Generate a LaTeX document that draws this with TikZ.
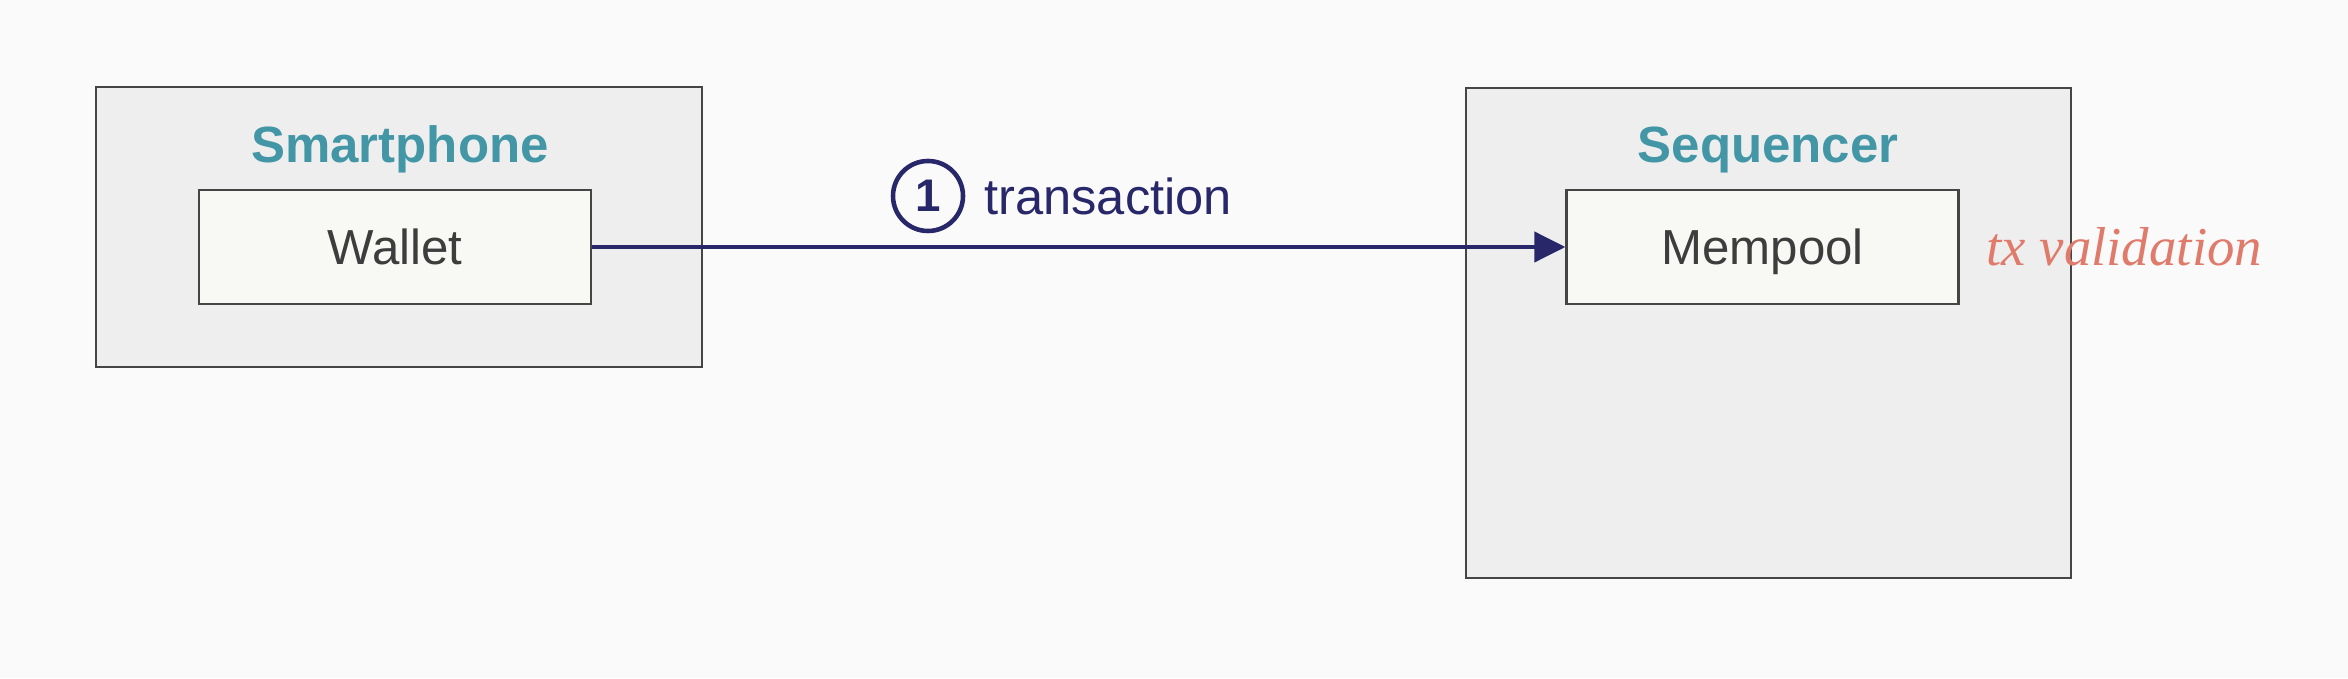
\documentclass[tikz,border=0pt]{standalone}
\usepackage{fontspec}
\setmainfont{Liberation Sans}
\newfontfamily\handfont{Liberation Serif}
\usetikzlibrary{arrows.meta}
\definecolor{bgcol}{HTML}{FAFAFA}
\definecolor{groupfill}{HTML}{EEEEEE}
\definecolor{boxfill}{HTML}{F8F9F4}
\definecolor{edgecol}{HTML}{454545}
\definecolor{textcol}{HTML}{3D3D3D}
\definecolor{teal}{HTML}{4396A6}
\definecolor{navy}{HTML}{27276A}
\definecolor{coral}{HTML}{E07B6C}
\tikzset{
	group/.style={draw=edgecol,fill=groupfill,line width=0.65pt,inner sep=0pt},
	comp/.style={draw=edgecol,fill=boxfill,line width=0.65pt,minimum width=3.92cm,
		minimum height=1.14cm,inner sep=0pt,text=textcol,text height=10.1pt,text depth=0pt,
		font=\fontsize{14}{16}\selectfont},
	grouptitle/.style={text=teal,font=\fontsize{14.5}{17}\selectfont\bfseries},
	flow/.style={draw=navy,line width=1.2pt,-{Triangle[length=3.1mm,width=3mm]}}
}
\begin{document}
\begin{tikzpicture}
	\fill[bgcol] (0,0) rectangle (23.48,6.78);
	\useasboundingbox (0,0) rectangle (23.48,6.78);
	% groups
	\node[group,minimum width=6.06cm,minimum height=2.80cm] (phone) at (3.99,4.51) {};
	\node[group,minimum width=6.05cm,minimum height=4.90cm] (seq) at (17.685,3.45) {};
	\node[grouptitle] (phonet) at (4.00,5.29) {Smartphone};
	\node[grouptitle] (seqt) at (17.68,5.28) {Sequencer};
	% components
	\node[comp] (wallet) at (3.95,4.31) {Wallet};
	\node[comp] (mempool) at (17.625,4.31) {Mempool};
	\draw[flow] (wallet) -- (mempool);
	\node[draw=navy,circle,line width=1.3pt,minimum size=0.7cm,inner sep=0pt,text=navy,
		font=\fontsize{13}{15}\selectfont\bfseries] (one) at (9.28,4.82) {1};
	\node[anchor=west,text=navy,font=\fontsize{14.4}{16}\selectfont] (tx) at (9.72,4.82) {transaction};
	\node[anchor=west,text=coral,font=\fontsize{15.6}{18}\selectfont\handfont\itshape] (valid) at (19.74,4.31) {tx validation};
\end{tikzpicture}
\end{document}
